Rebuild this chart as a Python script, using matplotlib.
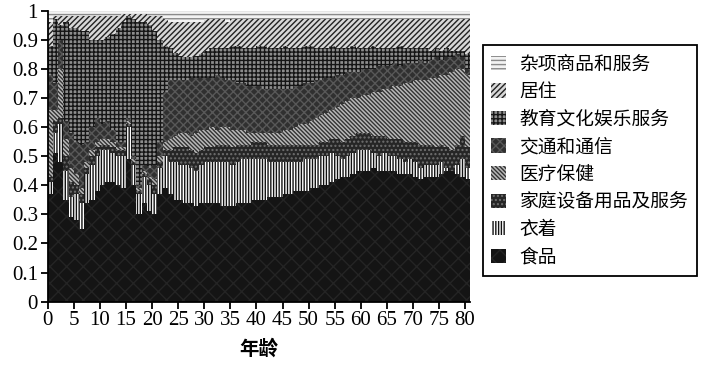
import matplotlib
matplotlib.use("Agg")
import matplotlib.pyplot as plt
from matplotlib.patches import Patch
import numpy as np

plt.rcParams["hatch.linewidth"] = 1.0

ages = list(range(81))

# cumulative top of each layer (share of total spending)
food_top = [0.37, 0.51, 0.48, 0.35, 0.29, 0.28, 0.25, 0.34, 0.35, 0.38,
            0.40, 0.41, 0.41, 0.40, 0.39, 0.49, 0.40, 0.30, 0.34, 0.31,
            0.30, 0.37, 0.39, 0.37, 0.35, 0.35, 0.34, 0.34, 0.33, 0.34,
            0.34, 0.34, 0.34, 0.33, 0.33, 0.33, 0.34, 0.34, 0.34, 0.35,
            0.35, 0.35, 0.36, 0.36, 0.36, 0.37, 0.37, 0.38, 0.38, 0.38,
            0.39, 0.39, 0.40, 0.40, 0.41, 0.42, 0.43, 0.43, 0.44, 0.45,
            0.45, 0.45, 0.46, 0.45, 0.45, 0.45, 0.45, 0.44, 0.44, 0.44,
            0.43, 0.42, 0.43, 0.43, 0.43, 0.44, 0.45, 0.45, 0.44, 0.43,
            0.42]
clothing_top = [0.41, 0.58, 0.61, 0.45, 0.36, 0.37, 0.34, 0.44, 0.47, 0.50,
                0.52, 0.52, 0.51, 0.50, 0.50, 0.60, 0.47, 0.37, 0.43, 0.40,
                0.37, 0.46, 0.50, 0.48, 0.48, 0.47, 0.47, 0.46, 0.45, 0.47,
                0.48, 0.48, 0.48, 0.48, 0.48, 0.47, 0.48, 0.49, 0.49, 0.49,
                0.49, 0.49, 0.48, 0.48, 0.48, 0.48, 0.48, 0.48, 0.48, 0.49,
                0.49, 0.49, 0.50, 0.50, 0.51, 0.50, 0.49, 0.50, 0.51, 0.52,
                0.52, 0.52, 0.51, 0.50, 0.51, 0.50, 0.50, 0.49, 0.48, 0.49,
                0.48, 0.46, 0.47, 0.47, 0.47, 0.48, 0.46, 0.45, 0.47, 0.49,
                0.46]
household_top = [0.43, 0.62, 0.63, 0.50, 0.41, 0.40, 0.37, 0.46, 0.50, 0.53,
                 0.54, 0.54, 0.53, 0.52, 0.52, 0.61, 0.48, 0.38, 0.44, 0.42,
                 0.40, 0.48, 0.52, 0.52, 0.53, 0.53, 0.53, 0.52, 0.51, 0.52,
                 0.53, 0.53, 0.54, 0.54, 0.54, 0.53, 0.54, 0.54, 0.54, 0.55,
                 0.55, 0.55, 0.54, 0.54, 0.54, 0.54, 0.54, 0.54, 0.54, 0.54,
                 0.54, 0.54, 0.55, 0.55, 0.56, 0.56, 0.55, 0.56, 0.57, 0.58,
                 0.58, 0.58, 0.57, 0.57, 0.57, 0.56, 0.56, 0.56, 0.55, 0.55,
                 0.55, 0.54, 0.54, 0.54, 0.53, 0.54, 0.53, 0.52, 0.54, 0.57,
                 0.53]
medical_top = [0.66, 0.66, 0.80, 0.56, 0.46, 0.44, 0.39, 0.48, 0.52, 0.55,
               0.56, 0.56, 0.55, 0.53, 0.53, 0.62, 0.49, 0.39, 0.45, 0.43,
               0.42, 0.50, 0.55, 0.56, 0.57, 0.58, 0.58, 0.57, 0.58, 0.59,
               0.59, 0.60, 0.59, 0.60, 0.60, 0.59, 0.59, 0.59, 0.58, 0.58,
               0.58, 0.58, 0.58, 0.58, 0.58, 0.59, 0.59, 0.60, 0.61, 0.61,
               0.62, 0.63, 0.64, 0.65, 0.66, 0.67, 0.68, 0.69, 0.70, 0.70,
               0.71, 0.71, 0.72, 0.72, 0.73, 0.73, 0.74, 0.74, 0.75, 0.75,
               0.76, 0.76, 0.76, 0.77, 0.77, 0.78, 0.78, 0.79, 0.80, 0.80,
               0.78]
transport_top = [0.78, 0.75, 0.90, 0.62, 0.58, 0.55, 0.54, 0.55, 0.60, 0.63,
                 0.61, 0.62, 0.59, 0.55, 0.55, 0.63, 0.50, 0.40, 0.47, 0.46,
                 0.47, 0.55, 0.72, 0.76, 0.76, 0.76, 0.76, 0.77, 0.77, 0.77,
                 0.77, 0.77, 0.78, 0.77, 0.76, 0.76, 0.75, 0.75, 0.74, 0.74,
                 0.74, 0.73, 0.73, 0.73, 0.73, 0.73, 0.73, 0.74, 0.74, 0.75,
                 0.75, 0.76, 0.76, 0.77, 0.77, 0.78, 0.78, 0.79, 0.79, 0.79,
                 0.80, 0.80, 0.80, 0.81, 0.81, 0.81, 0.82, 0.81, 0.82, 0.82,
                 0.82, 0.83, 0.82, 0.83, 0.84, 0.83, 0.84, 0.84, 0.85, 0.84,
                 0.80]
education_top = [0.88, 0.97, 0.95, 0.96, 0.94, 0.94, 0.93, 0.93, 0.90, 0.90,
                 0.90, 0.91, 0.92, 0.94, 0.96, 0.98, 0.97, 0.96, 0.96, 0.95,
                 0.93, 0.90, 0.88, 0.87, 0.855, 0.845, 0.84, 0.84, 0.845, 0.85,
                 0.86, 0.87, 0.87, 0.87, 0.87, 0.88, 0.88, 0.87, 0.87, 0.87,
                 0.88, 0.88, 0.87, 0.87, 0.87, 0.88, 0.87, 0.87, 0.87, 0.88,
                 0.88, 0.87, 0.87, 0.87, 0.88, 0.87, 0.87, 0.87, 0.88, 0.87,
                 0.87, 0.87, 0.88, 0.87, 0.87, 0.87, 0.87, 0.88, 0.87, 0.87,
                 0.87, 0.87, 0.87, 0.86, 0.87, 0.86, 0.87, 0.86, 0.86, 0.86,
                 0.85]
housing_top = [0.96, 0.98, 0.98, 0.98, 0.98, 0.98, 0.98, 0.98, 0.98, 0.98,
               0.98, 0.98, 0.98, 0.98, 0.99, 0.99, 0.99, 0.99, 0.99, 0.98,
               0.98, 0.98, 0.97, 0.96, 0.96, 0.96, 0.96, 0.96, 0.96, 0.96,
               0.97, 0.97, 0.97, 0.97, 0.96, 0.97, 0.97, 0.97, 0.97, 0.97,
               0.97, 0.97, 0.97, 0.97, 0.97, 0.97, 0.97, 0.97, 0.97, 0.97,
               0.97, 0.97, 0.97, 0.97, 0.97, 0.97, 0.97, 0.97, 0.97, 0.97,
               0.97, 0.97, 0.97, 0.97, 0.97, 0.97, 0.97, 0.97, 0.97, 0.97,
               0.97, 0.97, 0.97, 0.97, 0.97, 0.97, 0.97, 0.97, 0.97, 0.97,
               0.97]
misc_top = [1.0] * 81

labels = ["食品", "衣着", "家庭设备用品及服务", "医疗保健",
          "交通和通信", "教育文化娱乐服务", "居住", "杂项商品和服务"]
tops = [food_top, clothing_top, household_top, medical_top,
        transport_top, education_top, housing_top, misc_top]
# (face, hatch, hatch colour)
styles = [("#141414", "xx", "#242424"),
          ("white", "||||||", "#111111"),
          ("#262626", "....", "#707070"),
          ("#b8b8b8", "\\\\\\\\\\\\\\\\", "#333333"),
          ("#303030", "xxxx", "#585858"),
          ("#8c8c8c", "++++", "#151515"),
          ("#d8d8d8", "//////", "#222222"),
          ("#f2f2f2", "----", "#8a8a8a")]

fig = plt.figure(figsize=(7.02, 3.67), dpi=100)
ax = fig.add_axes([0.068, 0.178, 0.602, 0.793])

x = np.array(ages)
bottom = np.zeros(len(ages))
for top, (fc, hatch, hc) in zip(tops, styles):
    top = np.array(top)
    ax.bar(x, top - bottom, bottom=bottom, width=1.0, align="edge",
           facecolor=fc, edgecolor=hc, hatch=hatch, linewidth=0)
    bottom = top

ax.set_xlim(0, 81)
ax.set_ylim(0, 1)
ax.set_xticks(range(0, 81, 5))
ax.set_yticks(np.arange(0, 1.01, 0.1))
ax.set_yticklabels(["0", "0.1", "0.2", "0.3", "0.4", "0.5",
                    "0.6", "0.7", "0.8", "0.9", "1"])
for s in ["top", "right"]:
    ax.spines[s].set_visible(False)
for s in ["left", "bottom"]:
    ax.spines[s].set_linewidth(1.3)
ax.tick_params(direction="out", length=5, width=1.3, labelsize=15, pad=2)
for lab in ax.get_xticklabels() + ax.get_yticklabels():
    lab.set_family("Liberation Serif")
ax.set_xlabel("年龄", family="Noto Sans CJK SC", fontsize=14,
              fontweight="bold", labelpad=6)

handles = [Patch(facecolor=fc, edgecolor=hc, hatch=h, linewidth=0)
           for fc, h, hc in styles]
leg = fig.legend(handles[::-1], labels[::-1], loc="upper left",
                 bbox_to_anchor=(483 / 702, 1 - 45 / 367), borderaxespad=0,
                 prop={"family": "Noto Sans CJK SC", "size": 13.5,
                       "weight": "medium"},
                 handlelength=0.8, handleheight=0.8, handletextpad=0.7,
                 labelspacing=0.35, borderpad=0.45, fancybox=False,
                 edgecolor="black", framealpha=1)
leg.get_frame().set_linewidth(1.3)

fig.savefig("out.png", dpi=100)
